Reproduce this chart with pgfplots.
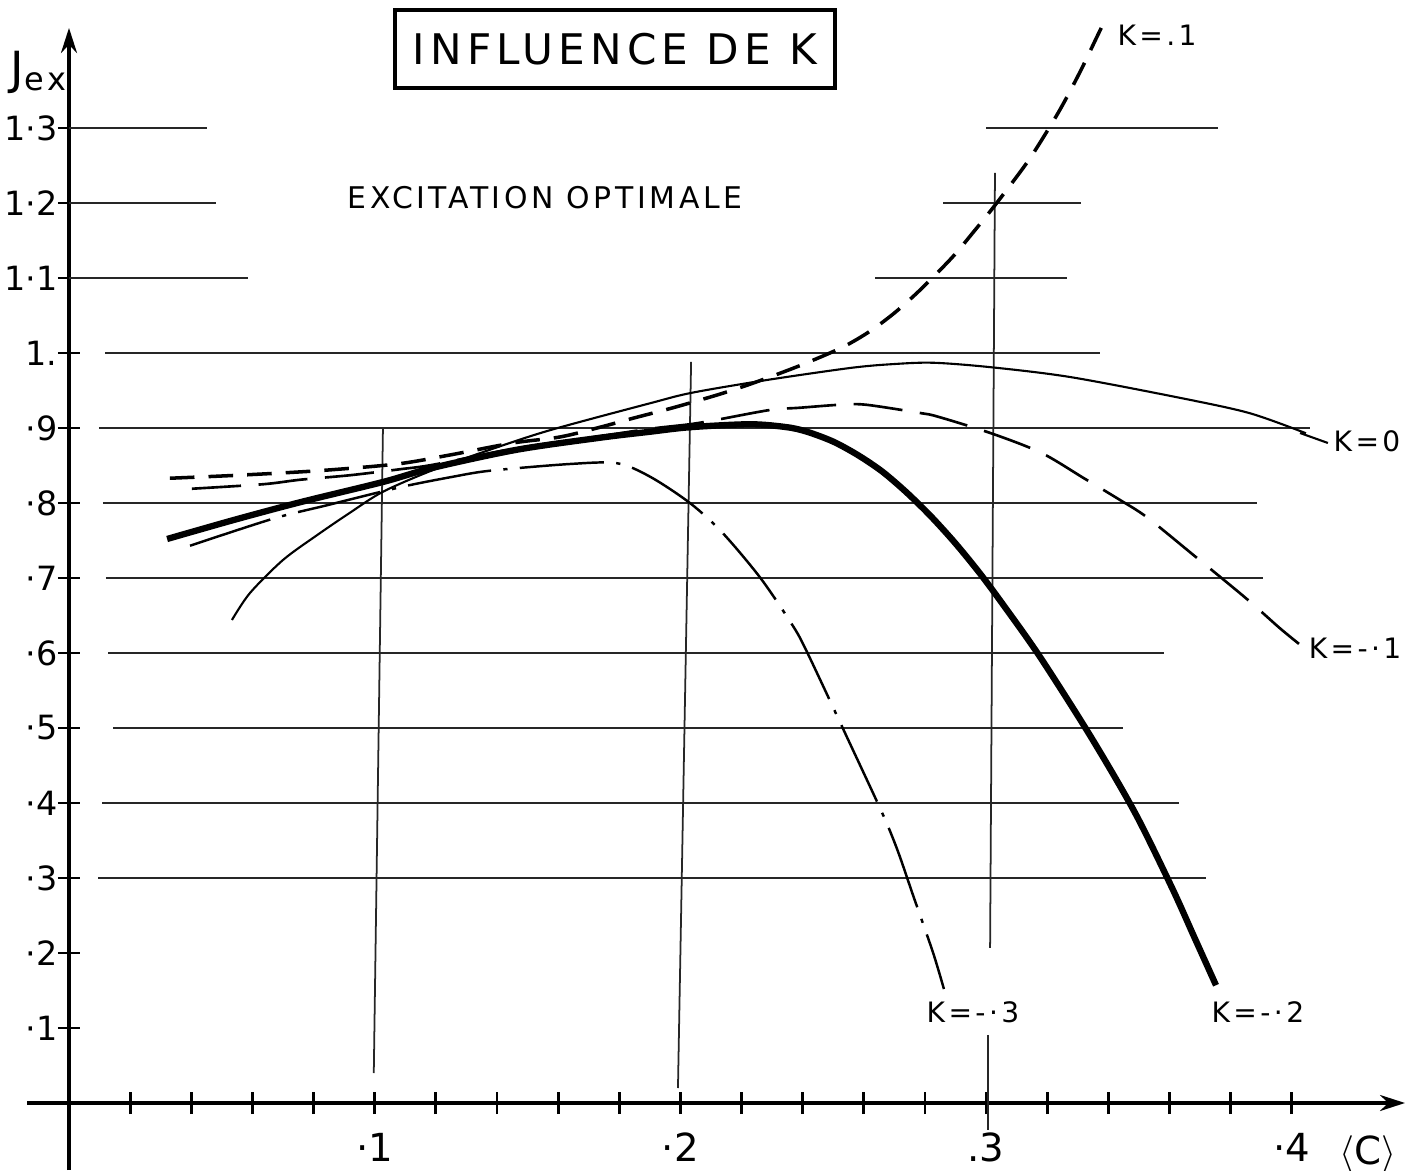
\documentclass[border=0pt]{standalone}
\usepackage{fontspec}
\setmainfont{DejaVu Sans}
\newfontfamily\hand{DejaVu Sans}[LetterSpace=12]
\usepackage{pgfplots}
\pgfplotsset{compat=1.18}
\usetikzlibrary{arrows.meta}

\pgfplotstableread{
x y
0.0533 0.644
0.0592 0.680
0.0700 0.724
0.0811 0.757
0.0919 0.787
0.1027 0.815
0.1191 0.844
0.1377 0.871
0.1573 0.897
0.1901 0.933
0.2038 0.947
0.2283 0.964
0.2555 0.980
0.2689 0.985
0.2826 0.987
0.3016 0.981
0.3274 0.968
0.3624 0.941
0.3860 0.920
0.4046 0.893
}\kzero

\pgfplotstableread{
x y
0.0330 0.833
0.0553 0.837
0.0815 0.843
0.1073 0.852
0.1246 0.864
0.1452 0.880
0.1606 0.888
0.1737 0.901
0.1845 0.913
0.1976 0.927
0.2120 0.944
0.2218 0.957
0.2326 0.973
0.2414 0.987
0.2532 1.008
0.2620 1.029
0.2702 1.054
0.2784 1.084
0.2888 1.127
0.2960 1.162
0.3029 1.197
0.3134 1.254
0.3206 1.300
0.3252 1.332
0.3310 1.377
0.3369 1.427
0.3395 1.448
}\kpone

\pgfplotstableread{
x y
0.0402 0.819
0.0635 0.825
0.0756 0.831
0.0919 0.837
0.1083 0.845
0.1191 0.851
0.1465 0.873
0.1737 0.889
0.1901 0.899
0.2031 0.905
0.2120 0.911
0.2293 0.924
0.2391 0.927
0.2522 0.931
0.2607 0.931
0.2784 0.920
0.2843 0.915
0.3016 0.893
0.3180 0.867
0.3320 0.833
0.3438 0.804
0.3526 0.781
0.3677 0.731
0.3850 0.673
0.3961 0.633
0.4027 0.611
}\kmone

\pgfplotstableread{
x y
0.0321 0.752
0.0536 0.777
0.0756 0.801
0.1027 0.828
0.1191 0.847
0.1465 0.871
0.1737 0.887
0.1901 0.895
0.2031 0.901
0.2228 0.905
0.2349 0.901
0.2414 0.895
0.2499 0.882
0.2580 0.864
0.2660 0.842
0.2740 0.814
0.2820 0.782
0.2900 0.746
0.2980 0.706
0.3060 0.662
0.3176 0.595
0.3343 0.488
0.3487 0.387
0.3608 0.287
0.3680 0.222
0.3752 0.157
}\kmtwo

\pgfplotstableread{
x y
0.0396 0.743
0.0667 0.779
0.0844 0.797
0.1083 0.821
0.1256 0.835
0.1377 0.843
0.1639 0.852
0.1793 0.853
0.1901 0.835
0.2031 0.800
0.2136 0.761
0.2260 0.701
0.2362 0.640
0.2411 0.604
0.2548 0.485
0.2663 0.384
0.2712 0.335
0.2761 0.277
0.2826 0.201
0.2862 0.152
}\kmthree

\begin{document}
\begin{tikzpicture}
\begin{axis}[
  scale only axis, width=14.16cm, height=11.7cm,
  xmin=-0.02257, xmax=0.44063, ymin=-0.08933, ymax=1.47067,
  axis lines=middle,
  clip=false,
  axis line style={line width=0.9pt, black},
  x axis line style={shorten <=0.27cm, shorten >=0.11cm, -{Stealth[length=0.25cm,width=0.16cm]}},
  y axis line style={shorten >=0.28cm, -{Stealth[length=0.25cm,width=0.16cm]}},
  xtick={0.1,0.2,0.3,0.4},
  xticklabels={·1,·2,.3,·4},
  minor xtick={0.02,0.04,0.06,0.08,0.12,0.14,0.16,0.18,0.22,0.24,0.26,0.28,0.32,0.34,0.36,0.38},
  ytick={0.1,0.2,0.3,0.4,0.5,0.6,0.7,0.8,0.9,1.0,1.1,1.2,1.3},
  yticklabels={·1,·2,·3,·4,·5,·6,·7,·8,·9,1.,1·1,1·2,1·3},
  tick align=center,
  major tick length=0.22cm, minor tick length=0.22cm,
  every tick/.style={line width=0.8pt, black},
  xticklabel style={anchor=center, inner sep=0pt, yshift=-0.33cm, font=\fontsize{11}{13}\selectfont},
  yticklabel style={anchor=east, inner sep=0pt, xshift=0cm, font=\fontsize{9.5}{11}\selectfont},
  every axis plot/.append style={no markers, black},
]
% horizontal guide lines
\begin{scope}[line width=0.5pt, black!85]
\draw (axis cs:0,1.3) -- (axis cs:0.0451,1.3);
\draw (axis cs:0,1.2) -- (axis cs:0.0481,1.2);
\draw (axis cs:0,1.1) -- (axis cs:0.0586,1.1);
\draw (axis cs:0.0118,1.0) -- (axis cs:0.3373,1.0);
\draw (axis cs:0.0098,0.9) -- (axis cs:0.4060,0.9);
\draw (axis cs:0.0111,0.8) -- (axis cs:0.3886,0.8);
\draw (axis cs:0.0121,0.7) -- (axis cs:0.3906,0.7);
\draw (axis cs:0.0128,0.6) -- (axis cs:0.3582,0.6);
\draw (axis cs:0.0144,0.5) -- (axis cs:0.3448,0.5);
\draw (axis cs:0.0108,0.4) -- (axis cs:0.3631,0.4);
\draw (axis cs:0.0095,0.3) -- (axis cs:0.3719,0.3);
\draw (axis cs:0.3000,1.3) -- (axis cs:0.3758,1.3);
\draw (axis cs:0.2859,1.2) -- (axis cs:0.3310,1.2);
\draw (axis cs:0.2637,1.1) -- (axis cs:0.3265,1.1);
% vertical guide lines
\draw (axis cs:0.1027,0.9) -- (axis cs:0.0997,0.04);
\draw (axis cs:0.2035,0.988) -- (axis cs:0.1992,0.02);
\draw (axis cs:0.3029,1.240) -- (axis cs:0.3013,0.2067);
\draw (axis cs:0.3007,0.0907) -- (axis cs:0.3007,-0.036);
\end{scope}

\addplot[line width=0.6pt, smooth, tension=0.5] table {\kzero};
\addplot[line width=1pt, smooth, tension=0.5, dash pattern=on 7pt off 4pt] table {\kpone};
\addplot[line width=0.75pt, smooth, tension=0.5, dash pattern=on 14pt off 5pt] table {\kmone};
\addplot[line width=1.8pt, smooth, tension=0.5] table {\kmtwo};
\addplot[line width=0.7pt, smooth, tension=0.5, dash pattern=on 24pt off 3.5pt on 1.2pt off 3.5pt] table {\kmthree};

\draw[line width=0.6pt] (axis cs:0.4027,0.8933) -- (axis cs:0.4118,0.880);

% texts
\node[draw, line width=1.2pt, minimum width=4.4cm, minimum height=0.78cm, inner sep=0pt,
      font=\hand\fontsize{12}{14}\selectfont] at (axis cs:0.1786,1.4053) {INFLUENCE DE K};
\node[font=\hand\fontsize{8.5}{10}\selectfont] at (axis cs:0.1557,1.2067) {EXCITATION OPTIMALE};
\node[anchor=west, inner sep=0pt, font=\hand\fontsize{13}{15}\selectfont] at (axis cs:-0.0193,1.3747) {J\textsubscript{ex}};
\node[font=\hand\fontsize{11}{13}\selectfont] at (axis cs:0.4249,-0.0693) {$\langle$C$\rangle$};

\node[font=\hand\fontsize{8}{10}\selectfont] at (axis cs:0.3559,1.424) {K=.1};
\node[font=\hand\fontsize{8}{10}\selectfont] at (axis cs:0.4246,0.8827) {K=0};
\node[font=\hand\fontsize{8}{10}\selectfont] at (axis cs:0.4207,0.6067) {K=-·1};
\node[font=\hand\fontsize{8}{10}\selectfont] at (axis cs:0.2957,0.1213) {K=-·3};
\node[font=\hand\fontsize{8}{10}\selectfont] at (axis cs:0.3889,0.1213) {K=-·2};
\end{axis}
\pgfresetboundingbox
\useasboundingbox (current axis.south west) rectangle (current axis.north east);
\end{tikzpicture}
\end{document}
